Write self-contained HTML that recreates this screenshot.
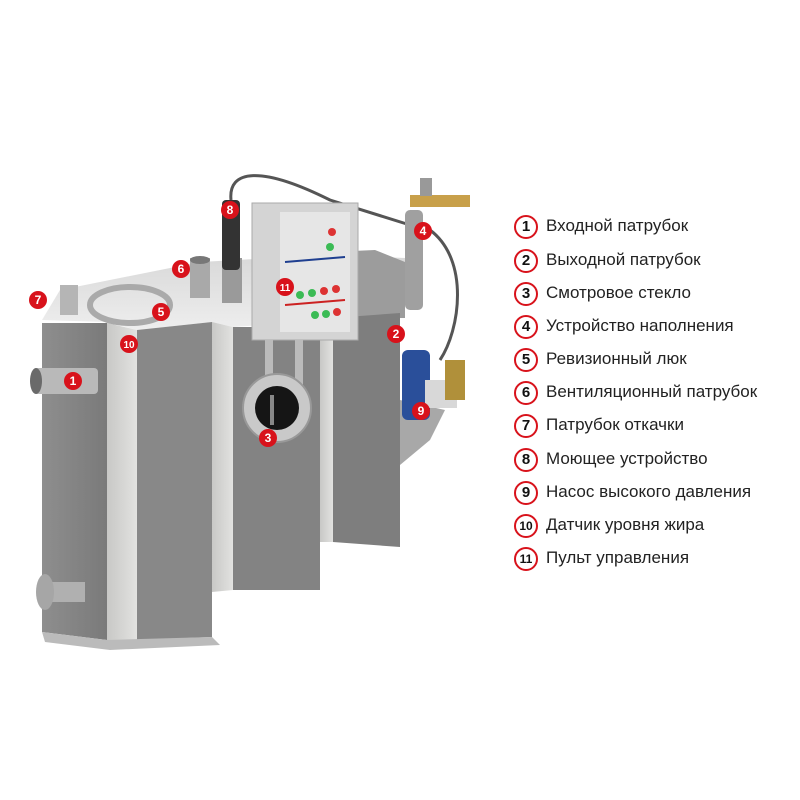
<!DOCTYPE html>
<html><head><meta charset="utf-8"><style>
html,body{margin:0;padding:0;background:#fff;width:800px;height:800px;overflow:hidden}
.lg{position:absolute;left:514px;font-family:"Liberation Sans","DejaVu Sans",sans-serif;font-size:17px;color:#222;height:24px;line-height:24px;white-space:nowrap}
.lg b{display:inline-block;width:20px;height:20px;border:2px solid #d8121b;border-radius:50%;text-align:center;line-height:20px;font-size:15px;color:#111;margin-right:8px;vertical-align:middle;background:#fff}
</style></head><body>
<svg width="800" height="800" style="position:absolute;left:0;top:0">
<defs>
<linearGradient id="dk" x1="0" x2="1"><stop offset="0" stop-color="#8e8e8e"/><stop offset="1" stop-color="#7a7a7a"/></linearGradient>
<linearGradient id="lt" x1="0" x2="1"><stop offset="0" stop-color="#c8c8c6"/><stop offset="1" stop-color="#e2e2e0"/></linearGradient>
<linearGradient id="top" x1="0" y1="0" x2="0" y2="1"><stop offset="0" stop-color="#d8d8d8"/><stop offset="1" stop-color="#eeeeee"/></linearGradient>
</defs>
<!-- top surface -->
<polygon points="42,320 60,290 200,262 330,255 405,258 405,318 333,320 233,327 212,322 137,330 107,322" fill="url(#top)"/>
<!-- right back wall -->
<polygon points="330,252 375,250 405,262 405,318 330,318" fill="#9c9c9c"/>
<!-- faces -->
<polygon points="42,323 107,323 107,640 42,632" fill="url(#dk)"/>
<polygon points="107,323 137,330 137,640 107,640" fill="url(#lt)"/>
<polygon points="137,330 212,322 212,637 137,640" fill="#888"/>
<polygon points="212,322 233,327 233,590 212,592" fill="url(#lt)"/>
<polygon points="233,327 320,327 320,590 233,590" fill="#838383"/>
<polygon points="320,327 333,320 333,542 320,542" fill="url(#lt)"/>
<polygon points="333,318 400,313 400,547 333,542" fill="#7e7e7e"/>
<polygon points="42,632 107,640 212,637 220,645 110,650 45,642" fill="#bbb"/>
<!-- inlet pipe 1 -->
<rect x="33" y="368" width="65" height="26" rx="4" fill="#b9b9b9"/>
<ellipse cx="36" cy="381" rx="6" ry="13" fill="#6a6a6a"/>
<!-- bottom flange -->
<rect x="45" y="582" width="40" height="20" fill="#b0b0b0"/>
<ellipse cx="45" cy="592" rx="9" ry="18" fill="#a6a6a6"/>
<!-- top items -->
<ellipse cx="130" cy="305" rx="40" ry="18" fill="none" stroke="#aaa" stroke-width="6"/>
<rect x="190" y="258" width="20" height="40" fill="#a9a9a9"/>
<ellipse cx="200" cy="260" rx="10" ry="4" fill="#777"/>
<rect x="60" y="285" width="18" height="30" fill="#b5b5b5"/>
<rect x="222" y="258" width="20" height="45" fill="#9a9a9a"/>
<rect x="222" y="200" width="18" height="70" rx="4" fill="#333"/>
<path d="M231 200 C228 170 260 165 330 200 L410 225" stroke="#555" stroke-width="3" fill="none"/>
<path d="M430 230 C470 260 460 330 440 360" stroke="#555" stroke-width="3" fill="none"/>
<!-- filling device -->
<rect x="405" y="210" width="18" height="100" rx="5" fill="#a0a0a0"/>
<rect x="410" y="195" width="60" height="12" fill="#c8a04a"/>
<rect x="420" y="178" width="12" height="18" fill="#999"/>
<!-- cone -->
<polygon points="400,400 445,410 430,440 400,465" fill="#a8a8a8"/>
<!-- pump -->
<rect x="402" y="350" width="28" height="70" rx="6" fill="#2a4f9a"/>
<rect x="425" y="380" width="32" height="28" fill="#d8d8d8"/>
<rect x="445" y="360" width="20" height="40" fill="#b0903a"/>
<!-- control panel -->
<rect x="252" y="203" width="106" height="137" fill="#d4d4d4" stroke="#aaa"/>
<rect x="280" y="212" width="70" height="120" fill="#e6e6e6"/>
<line x1="285" y1="262" x2="345" y2="257" stroke="#1f3f90" stroke-width="2"/>
<line x1="285" y1="305" x2="345" y2="300" stroke="#c22" stroke-width="2"/>
<g fill="#3bbb55"><circle cx="330" cy="247" r="4"/><circle cx="300" cy="295" r="4"/><circle cx="312" cy="293" r="4"/><circle cx="315" cy="315" r="4"/><circle cx="326" cy="314" r="4"/></g>
<g fill="#d33"><circle cx="332" cy="232" r="4"/><circle cx="324" cy="291" r="4"/><circle cx="336" cy="289" r="4"/><circle cx="337" cy="312" r="4"/></g>
<rect x="265" y="340" width="8" height="50" fill="#bbb"/><rect x="295" y="340" width="8" height="50" fill="#bbb"/>
<!-- sight glass -->
<circle cx="277" cy="408" r="34" fill="#c9c9c9" stroke="#999" stroke-width="2"/>
<circle cx="277" cy="408" r="22" fill="#151515"/>
<rect x="270" y="395" width="4" height="30" fill="#888"/>
<!-- badges -->
<g font-family="Liberation Sans,sans-serif" font-weight="bold" font-size="12" fill="#fff" text-anchor="middle">
<g fill="#d8121b"><circle cx="73" cy="381" r="9"/><circle cx="396" cy="334" r="9"/><circle cx="268" cy="438" r="9"/><circle cx="423" cy="231" r="9"/><circle cx="161" cy="312" r="9"/><circle cx="181" cy="269" r="9"/><circle cx="38" cy="300" r="9"/><circle cx="230" cy="210" r="9"/><circle cx="421" cy="411" r="9"/><circle cx="129" cy="344" r="9"/><circle cx="285" cy="287" r="9"/></g>
<text x="73" y="385">1</text><text x="396" y="338">2</text><text x="268" y="442">3</text><text x="423" y="235">4</text><text x="161" y="316">5</text><text x="181" y="273">6</text><text x="38" y="304">7</text><text x="230" y="214">8</text><text x="421" y="415">9</text><text x="129" y="348" font-size="10">10</text><text x="285" y="291" font-size="10">11</text>
</g>
</svg>
<div class="lg" style="top:214px"><b>1</b>Входной патрубок</div>
<div class="lg" style="top:248px"><b>2</b>Выходной патрубок</div>
<div class="lg" style="top:281px"><b>3</b>Смотровое стекло</div>
<div class="lg" style="top:314px"><b>4</b>Устройство наполнения</div>
<div class="lg" style="top:347px"><b>5</b>Ревизионный люк</div>
<div class="lg" style="top:380px"><b>6</b>Вентиляционный патрубок</div>
<div class="lg" style="top:413px"><b>7</b>Патрубок откачки</div>
<div class="lg" style="top:447px"><b>8</b>Моющее устройство</div>
<div class="lg" style="top:480px"><b>9</b>Насос высокого давления</div>
<div class="lg" style="top:513px"><b style="font-size:12px">10</b>Датчик уровня жира</div>
<div class="lg" style="top:546px"><b style="font-size:12px">11</b>Пульт управления</div>
</body></html>
